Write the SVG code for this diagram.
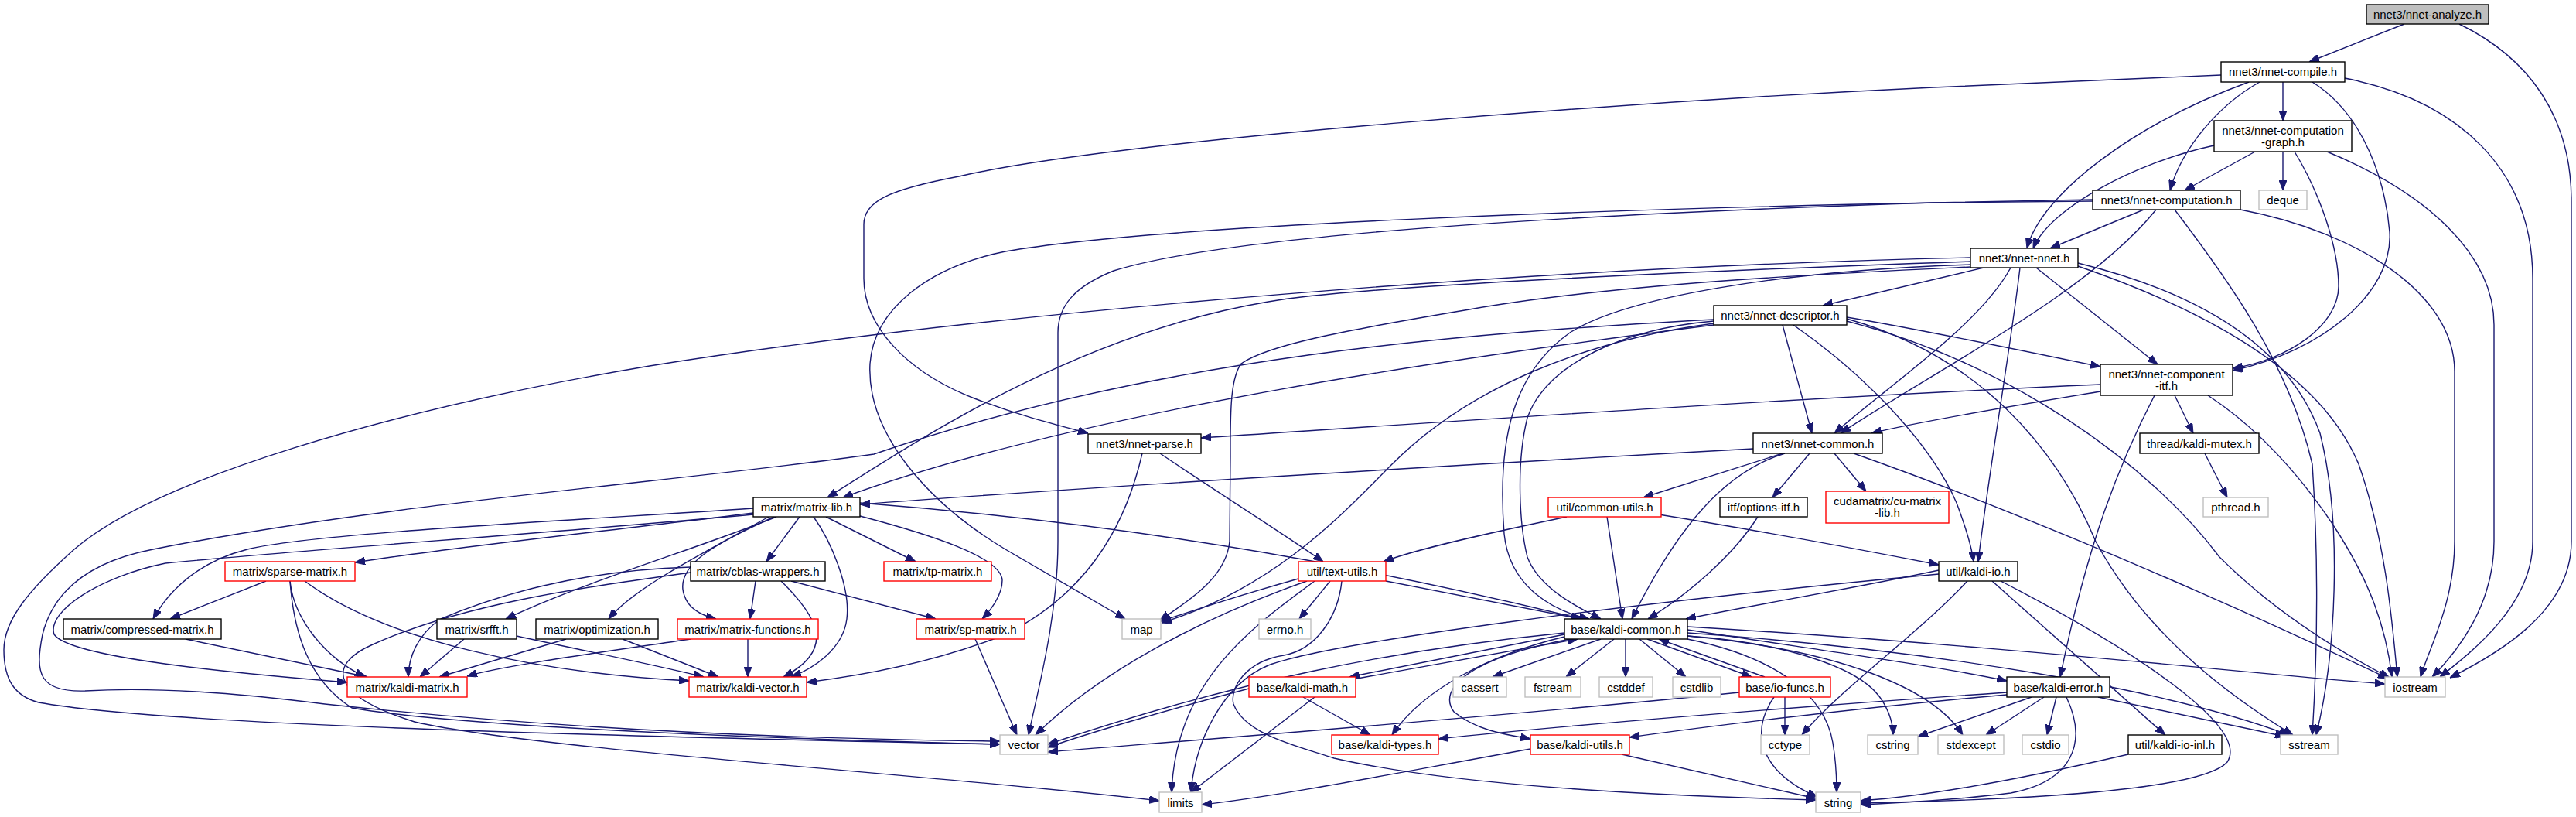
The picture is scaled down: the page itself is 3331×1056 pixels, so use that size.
<svg xmlns="http://www.w3.org/2000/svg" width="3331" height="1056" viewBox="0 0 3331 1056">
<style>
.n rect{fill:#fff;stroke:#000;stroke-width:1.4}
.r rect{stroke:#f00}
.g rect{stroke:#bfbfbf}
.s rect{fill:#bfbfbf}
text{font-family:"Liberation Sans",Arial,sans-serif;font-size:15px;text-anchor:middle;fill:#000}
.e path{fill:none;stroke:#191970;stroke-width:1.4;marker-end:url(#a)}
</style>
<defs>
<marker id="a" viewBox="0 0 13 10" refX="13" refY="5" markerWidth="13" markerHeight="10" markerUnits="userSpaceOnUse" orient="auto">
<polygon points="0,0 13,5 0,10" fill="#191970" stroke="#191970"/>
</marker>
</defs>
<rect width="3331" height="1056" fill="#fff"/>
<g id="edges" class="e">
<path d="M3109,31 L2986,80"/>
<path d="M3180,31 C3270,75 3325,150 3325,260 L3325,700 C3325,790 3230,845 3168,876"/>
<path d="M2952,106 L2952,156"/>
<path d="M2922,106 C2870,135 2822,190 2806,246"/>
<path d="M2908,106 C2760,160 2640,250 2621,321"/>
<path d="M2990,106 C3060,150 3085,240 3090,300 C3095,380 3000,455 2887,479"/>
<path d="M3032,101 C3180,130 3275,220 3275,360 L3275,700 C3275,780 3200,840 3155,875"/>
<path d="M2872,97 L2500,113 C2100,132 1450,180 1240,228 C1150,245 1117,260 1117,290 L1117,360 C1117,420 1170,480 1260,515 C1320,538 1370,550 1407,560"/>
<path d="M2916,196 L2825,246"/>
<path d="M2952,196 L2952,246"/>
<path d="M2863,188 C2760,210 2650,270 2629,321"/>
<path d="M2967,196 C3000,250 3024,320 3024,370 C3024,420 2960,465 2887,476"/>
<path d="M3009,196 C3140,250 3225,330 3225,420 L3225,700 C3225,780 3180,840 3145,875"/>
<path d="M2772,271 L2651,321"/>
<path d="M2788,271 C2700,380 2500,480 2380,560"/>
<path d="M2897,271 C3050,300 3174,380 3174,480 L3174,700 C3174,780 3140,840 3130,875"/>
<path d="M2812,271 C2880,360 2960,470 2990,600 C3000,750 2995,870 2990,950"/>
<path d="M2706,260 L2500,262 C2100,275 1600,300 1440,350 C1390,370 1368,395 1368,430 L1368,700 C1368,800 1340,900 1330,950"/>
<path d="M2706,258 L2500,262 C2100,270 1500,290 1300,325 C1200,345 1130,400 1125,470 C1120,560 1200,650 1300,710 C1360,745 1420,780 1455,800"/>
<path d="M2565,346 L2357,395"/>
<path d="M2633,346 L2790,471"/>
<path d="M2600,346 C2560,420 2440,500 2372,560"/>
<path d="M2612,346 C2600,450 2570,620 2558,726"/>
<path d="M2548,342 C2300,350 2100,385 2030,430 C1960,480 1935,560 1945,690 C1952,760 2010,790 2055,800"/>
<path d="M2548,338 C2200,350 1750,370 1640,390 C1400,430 1200,560 1070,643"/>
<path d="M2548,333 C2000,345 1300,400 840,473 C500,530 200,620 96,710 C40,760 5,800 5,840 C5,880 20,900 50,908 C200,935 700,950 1293,962"/>
<path d="M2548,345 C2400,352 2100,365 1900,400 C1750,425 1640,445 1605,470 C1590,490 1591,540 1591,590 L1590,700 C1585,750 1530,780 1500,802"/>
<path d="M2687,340 C2850,380 2960,450 3000,560 C3030,680 3020,850 2995,950"/>
<path d="M2687,344 C2850,400 3000,480 3050,600 C3085,700 3093,800 3100,875"/>
<path d="M2388,410 C2450,420 2600,450 2716,474"/>
<path d="M2305,420 L2343,560"/>
<path d="M2216,415 C2100,425 2000,470 1975,540 C1960,600 1965,680 1975,720 C1990,760 2040,785 2070,800"/>
<path d="M2319,420 C2420,490 2500,580 2530,650 C2545,690 2550,710 2552,726"/>
<path d="M2216,420 C1900,460 1400,530 1090,643"/>
<path d="M2216,413 C1900,430 1500,460 1130,587 C900,620 500,650 198,710 C120,725 70,760 55,820 C45,870 50,895 110,893 C200,888 300,895 420,910 C700,940 1000,955 1293,958"/>
<path d="M2216,418 C2050,440 1900,500 1800,600 C1740,660 1650,760 1502,805"/>
<path d="M2388,415 C2600,470 2780,600 2870,720 C2950,800 3040,850 3090,876"/>
<path d="M2388,412 C2560,460 2660,580 2710,700 C2780,830 2900,910 2965,950"/>
<path d="M2716,506 C2600,525 2480,545 2420,560"/>
<path d="M2716,497 C2300,515 1800,550 1553,566"/>
<path d="M2812,511 L2836,560"/>
<path d="M2786,511 C2740,600 2700,700 2664,875"/>
<path d="M2855,511 C2960,580 3040,700 3070,780 C3085,820 3090,850 3093,875"/>
<path d="M1500,586 C1580,640 1660,690 1711,726"/>
<path d="M1477,586 C1460,660 1420,760 1300,820 C1200,860 1100,875 1043,882"/>
<path d="M2308,586 C2230,610 2170,680 2110,800"/>
<path d="M2305,586 L2125,643"/>
<path d="M2340,586 L2292,643"/>
<path d="M2372,586 L2413,635"/>
<path d="M2397,586 C2550,640 2800,740 3088,877"/>
<path d="M2267,580 C1900,600 1400,630 1112,652"/>
<path d="M2851,586 L2880,643"/>
<path d="M1112,650 C1500,680 1800,740 2045,800"/>
<path d="M974,663 C800,685 600,705 459,727"/>
<path d="M974,657 C700,675 400,690 320,710 C260,725 220,760 198,800"/>
<path d="M974,665 C700,690 400,710 214,728 C130,745 60,790 70,820 C90,850 300,870 449,882"/>
<path d="M1004,668 C900,710 760,750 654,800"/>
<path d="M994,668 C900,720 820,760 787,800"/>
<path d="M1001,668 C930,700 870,730 885,770 C890,785 905,795 926,800"/>
<path d="M1034,668 L991,726"/>
<path d="M1052,668 C1075,700 1100,760 1095,800 C1090,840 1050,865 1023,875"/>
<path d="M1068,668 L1184,726"/>
<path d="M1112,667 C1200,690 1295,720 1296,750 C1296,770 1280,790 1270,800"/>
<path d="M977,751 L970,800"/>
<path d="M1010,751 C1060,800 1080,840 1013,875"/>
<path d="M1023,751 L1210,800"/>
<path d="M893,733 C750,737 640,770 570,800 C540,820 528,850 528,875"/>
<path d="M893,740 C750,760 600,780 482,833 C420,860 430,900 536,933 C700,970 1200,1000 1499,1035"/>
<path d="M344,751 L220,800"/>
<path d="M375,751 C380,800 420,850 472,875"/>
<path d="M375,751 C380,820 400,880 455,915 C600,940 1000,955 1293,962"/>
<path d="M394,751 C500,830 700,870 891,880"/>
<path d="M240,826 L475,875"/>
<path d="M600,826 L543,875"/>
<path d="M668,822 C750,840 850,860 910,875"/>
<path d="M732,826 L568,875"/>
<path d="M805,826 L929,875"/>
<path d="M893,826 C800,840 650,860 604,874"/>
<path d="M967,826 L967,875"/>
<path d="M1261,826 L1315,950"/>
<path d="M1792,751 L2044,800"/>
<path d="M1679,748 C1600,770 1540,790 1501,803"/>
<path d="M1690,751 C1550,800 1420,870 1339,950"/>
<path d="M1720,751 L1680,800"/>
<path d="M1700,751 C1620,810 1520,880 1515,1024"/>
<path d="M1735,751 C1730,800 1700,840 1660,847 C1610,855 1590,890 1595,910 C1610,950 1680,965 1725,980 C1900,1020 2200,1030 2348,1034"/>
<path d="M2507,737 C2400,760 2250,785 2180,800"/>
<path d="M2544,751 C2480,820 2380,890 2330,950"/>
<path d="M2576,751 L2800,950"/>
<path d="M2587,751 C2760,840 2910,940 2880,985 C2840,1030 2500,1036 2406,1038"/>
<path d="M2507,742 C2100,780 1720,830 1640,860 C1580,885 1545,960 1540,1024"/>
<path d="M2026,668 C1920,690 1830,710 1789,726"/>
<path d="M2078,668 L2098,800"/>
<path d="M2145,665 C2300,690 2430,715 2507,730"/>
<path d="M2273,668 C2240,720 2180,770 2131,800"/>
<path d="M2070,826 L1930,875"/>
<path d="M2087,826 L2025,875"/>
<path d="M2102,826 L2102,875"/>
<path d="M2120,826 L2180,875"/>
<path d="M2130,826 L2265,875"/>
<path d="M2282,875 L2145,826"/>
<path d="M2023,820 L1745,875"/>
<path d="M1755,877 L2040,826"/>
<path d="M2023,823 C1930,845 1840,890 1800,950"/>
<path d="M2035,825 C1900,850 1858,890 1880,920 C1910,945 1950,950 1979,955"/>
<path d="M2182,814 C2350,840 2500,860 2595,880"/>
<path d="M2182,810 C2600,835 2900,870 3084,884"/>
<path d="M2182,818 C2500,840 2800,890 2960,950"/>
<path d="M2182,822 C2380,840 2500,890 2538,950"/>
<path d="M2182,822 C2300,830 2400,860 2430,900 C2445,920 2448,940 2448,950"/>
<path d="M2182,826 C2300,850 2360,900 2370,960 C2375,990 2375,1010 2375,1024"/>
<path d="M2023,818 C1800,840 1600,880 1355,962"/>
<path d="M1615,890 C1500,920 1400,950 1355,966"/>
<path d="M1700,901 L1540,1024"/>
<path d="M1685,901 L1772,950"/>
<path d="M2249,895 C1900,930 1500,960 1355,972"/>
<path d="M2308,901 L2308,950"/>
<path d="M2294,901 C2260,950 2280,1000 2350,1030"/>
<path d="M1979,968 C1800,1000 1650,1030 1554,1040"/>
<path d="M2097,975 L2348,1032"/>
<path d="M2643,901 L2568,950"/>
<path d="M2659,901 L2647,950"/>
<path d="M2672,901 C2700,960 2680,1010 2600,1025 C2520,1035 2450,1038 2406,1040"/>
<path d="M2713,901 L2955,952"/>
<path d="M2627,901 L2480,952"/>
<path d="M2595,895 C2300,915 2000,940 1860,955"/>
<path d="M2595,898 C2400,915 2200,940 2107,953"/>
<path d="M2752,975 C2600,1010 2480,1030 2406,1035"/>
</g>
<g id="n_analyze" class="n s"><rect x="3060" y="6" width="158" height="25"/><text x="3139" y="24">nnet3/nnet-analyze.h</text></g>
<g id="n_compile" class="n"><rect x="2872" y="80" width="160" height="26"/><text x="2952" y="98">nnet3/nnet-compile.h</text></g>
<g id="n_cgraph" class="n"><rect x="2863" y="156" width="178" height="40"/><text x="2952" y="174">nnet3/nnet-computation</text><text x="2952" y="189">-graph.h</text></g>
<g id="n_computation" class="n"><rect x="2706" y="246" width="191" height="25"/><text x="2801.5" y="264">nnet3/nnet-computation.h</text></g>
<g id="n_deque" class="n g"><rect x="2921" y="246" width="62" height="25"/><text x="2952" y="264">deque</text></g>
<g id="n_nnet" class="n"><rect x="2548" y="321" width="139" height="25"/><text x="2617.5" y="339">nnet3/nnet-nnet.h</text></g>
<g id="n_descriptor" class="n"><rect x="2216" y="395" width="172" height="25"/><text x="2302" y="413">nnet3/nnet-descriptor.h</text></g>
<g id="n_compitf" class="n"><rect x="2716" y="471" width="171" height="40"/><text x="2801.5" y="489">nnet3/nnet-component</text><text x="2801.5" y="504">-itf.h</text></g>
<g id="n_parse" class="n"><rect x="1407" y="561" width="146" height="25"/><text x="1480" y="579">nnet3/nnet-parse.h</text></g>
<g id="n_common" class="n"><rect x="2267" y="560" width="167" height="26"/><text x="2350.5" y="578.5">nnet3/nnet-common.h</text></g>
<g id="n_mutex" class="n"><rect x="2767" y="560" width="154" height="26"/><text x="2844" y="578.5">thread/kaldi-mutex.h</text></g>
<g id="n_matrixlib" class="n"><rect x="974" y="643" width="138" height="25"/><text x="1043" y="661">matrix/matrix-lib.h</text></g>
<g id="n_commonutils" class="n r"><rect x="2002" y="643" width="146" height="25"/><text x="2075" y="661">util/common-utils.h</text></g>
<g id="n_options" class="n"><rect x="2224" y="643" width="113" height="25"/><text x="2280.5" y="661">itf/options-itf.h</text></g>
<g id="n_cumatrix" class="n r"><rect x="2361" y="635" width="159" height="41"/><text x="2440.5" y="653">cudamatrix/cu-matrix</text><text x="2440.5" y="668">-lib.h</text></g>
<g id="n_pthread" class="n g"><rect x="2849" y="643" width="84" height="25"/><text x="2891" y="661">pthread.h</text></g>
<g id="n_sparse" class="n r"><rect x="291" y="726" width="168" height="25"/><text x="375" y="744">matrix/sparse-matrix.h</text></g>
<g id="n_cblas" class="n"><rect x="893" y="726" width="174" height="25"/><text x="980" y="744">matrix/cblas-wrappers.h</text></g>
<g id="n_tp" class="n r"><rect x="1143" y="726" width="139" height="25"/><text x="1212.5" y="744">matrix/tp-matrix.h</text></g>
<g id="n_textutils" class="n r"><rect x="1679" y="726" width="113" height="25"/><text x="1735.5" y="744">util/text-utils.h</text></g>
<g id="n_kaldiio" class="n"><rect x="2507" y="726" width="102" height="25"/><text x="2558" y="744">util/kaldi-io.h</text></g>
<g id="n_compressed" class="n"><rect x="82" y="800" width="204" height="26"/><text x="184" y="818.5">matrix/compressed-matrix.h</text></g>
<g id="n_srfft" class="n"><rect x="565" y="800" width="103" height="26"/><text x="616.5" y="818.5">matrix/srfft.h</text></g>
<g id="n_optim" class="n"><rect x="693" y="800" width="158" height="26"/><text x="772" y="818.5">matrix/optimization.h</text></g>
<g id="n_mfuncs" class="n r"><rect x="876" y="800" width="182" height="26"/><text x="967" y="818.5">matrix/matrix-functions.h</text></g>
<g id="n_sp" class="n r"><rect x="1185" y="800" width="140" height="26"/><text x="1255" y="818.5">matrix/sp-matrix.h</text></g>
<g id="n_map" class="n g"><rect x="1451" y="800" width="50" height="26"/><text x="1476" y="818.5">map</text></g>
<g id="n_errno" class="n g"><rect x="1628" y="800" width="67" height="26"/><text x="1661.5" y="818.5">errno.h</text></g>
<g id="n_kcommon" class="n"><rect x="2023" y="800" width="159" height="26"/><text x="2102.5" y="818.5">base/kaldi-common.h</text></g>
<g id="n_kmatrix" class="n r"><rect x="449" y="875" width="155" height="26"/><text x="526.5" y="893.5">matrix/kaldi-matrix.h</text></g>
<g id="n_kvector" class="n r"><rect x="891" y="875" width="152" height="26"/><text x="967" y="893.5">matrix/kaldi-vector.h</text></g>
<g id="n_kmath" class="n r"><rect x="1615" y="875" width="138" height="26"/><text x="1684" y="893.5">base/kaldi-math.h</text></g>
<g id="n_cassert" class="n g"><rect x="1879" y="875" width="69" height="26"/><text x="1913.5" y="893.5">cassert</text></g>
<g id="n_fstream" class="n g"><rect x="1972" y="875" width="72" height="26"/><text x="2008" y="893.5">fstream</text></g>
<g id="n_cstddef" class="n g"><rect x="2068" y="875" width="69" height="26"/><text x="2102.5" y="893.5">cstddef</text></g>
<g id="n_cstdlib" class="n g"><rect x="2163" y="875" width="62" height="26"/><text x="2194" y="893.5">cstdlib</text></g>
<g id="n_iofuncs" class="n r"><rect x="2249" y="875" width="118" height="26"/><text x="2308" y="893.5">base/io-funcs.h</text></g>
<g id="n_kerror" class="n"><rect x="2595" y="875" width="133" height="26"/><text x="2661.5" y="893.5">base/kaldi-error.h</text></g>
<g id="n_iostream" class="n g"><rect x="3084" y="875" width="78" height="26"/><text x="3123" y="893.5">iostream</text></g>
<g id="n_vector" class="n g"><rect x="1293" y="950" width="62" height="25"/><text x="1324" y="968">vector</text></g>
<g id="n_ktypes" class="n r"><rect x="1722" y="950" width="138" height="25"/><text x="1791" y="968">base/kaldi-types.h</text></g>
<g id="n_kutils" class="n r"><rect x="1979" y="950" width="128" height="25"/><text x="2043" y="968">base/kaldi-utils.h</text></g>
<g id="n_cctype" class="n g"><rect x="2277" y="950" width="63" height="25"/><text x="2308.5" y="968">cctype</text></g>
<g id="n_cstring" class="n g"><rect x="2415" y="950" width="65" height="25"/><text x="2447.5" y="968">cstring</text></g>
<g id="n_stdexcept" class="n g"><rect x="2506" y="950" width="85" height="25"/><text x="2548.5" y="968">stdexcept</text></g>
<g id="n_cstdio" class="n g"><rect x="2615" y="950" width="60" height="25"/><text x="2645" y="968">cstdio</text></g>
<g id="n_kioinl" class="n"><rect x="2752" y="950" width="121" height="25"/><text x="2812.5" y="968">util/kaldi-io-inl.h</text></g>
<g id="n_sstream" class="n g"><rect x="2949" y="950" width="74" height="25"/><text x="2986" y="968">sstream</text></g>
<g id="n_limits" class="n g"><rect x="1499" y="1024" width="55" height="26"/><text x="1526.5" y="1042.5">limits</text></g>
<g id="n_string" class="n g"><rect x="2348" y="1024" width="58" height="26"/><text x="2377" y="1042.5">string</text></g>
</svg>
